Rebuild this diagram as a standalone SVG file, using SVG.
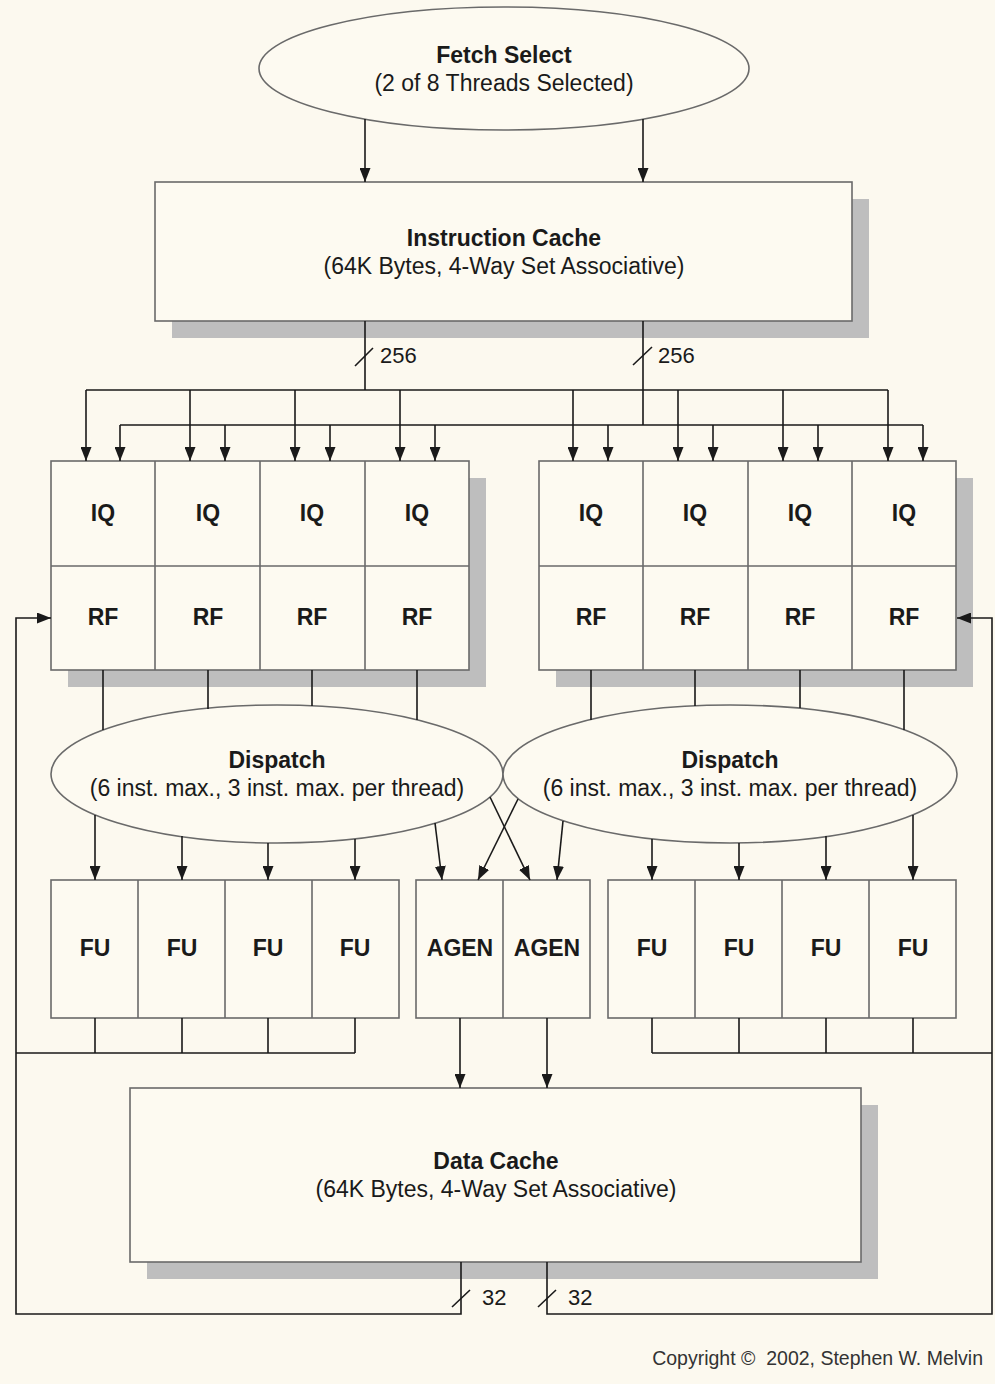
<svg xmlns="http://www.w3.org/2000/svg" width="995" height="1384" viewBox="0 0 995 1384">
<defs>
<marker id="ah" viewBox="0 0 14 11" refX="14" refY="5.5" markerWidth="14" markerHeight="11" markerUnits="userSpaceOnUse" orient="auto">
<path d="M0,0 L14,5.5 L0,11 z" fill="#1a1a1a"/>
</marker>
</defs>
<style>
.bg{fill:#FCF9EF}
.box{fill:#FDFAF1;stroke:#6a6a6a;stroke-width:1.6}
.div{fill:none;stroke:#6a6a6a;stroke-width:1.6}
.sh{fill:#BEBEBE}
.ln{fill:none;stroke:#1a1a1a;stroke-width:1.6}
.ar{fill:none;stroke:#1a1a1a;stroke-width:1.6;marker-end:url(#ah)}
.t{font-family:"Liberation Sans",Arial,sans-serif;font-size:23px;fill:#1a1a1a;text-anchor:middle}
.b{font-weight:bold}
.lab{font-family:"Liberation Sans",Arial,sans-serif;font-size:22px;fill:#1a1a1a}
.cp{font-family:"Liberation Sans",Arial,sans-serif;font-size:19.5px;fill:#333;text-anchor:end}
</style>
<rect class="bg" x="0" y="0" width="995" height="1384"/>

<g id="fetch-select">
<ellipse class="box" cx="504" cy="68.5" rx="245" ry="61.5"/>
<text class="t b" x="504" y="63">Fetch Select</text>
<text class="t" x="504" y="91">(2 of 8 Threads Selected)</text>
</g>

<g id="instruction-cache">
<rect class="sh" x="172" y="199" width="697" height="139"/>
<rect class="box" x="155" y="182" width="697" height="139"/>
<text class="t b" x="504" y="246">Instruction Cache</text>
<text class="t" x="504" y="274">(64K Bytes, 4-Way Set Associative)</text>
</g>

<g id="iq-rf-left">
<rect class="sh" x="68" y="478" width="418" height="209"/>
<rect class="box" x="51" y="461" width="418" height="209"/>
<path class="div" d="M51,566 H469 M155,461 V670 M260,461 V670 M365,461 V670"/>
<text class="t b" x="103" y="521">IQ</text>
<text class="t b" x="208" y="521">IQ</text>
<text class="t b" x="312" y="521">IQ</text>
<text class="t b" x="417" y="521">IQ</text>
<text class="t b" x="103" y="625">RF</text>
<text class="t b" x="208" y="625">RF</text>
<text class="t b" x="312" y="625">RF</text>
<text class="t b" x="417" y="625">RF</text>
</g>

<g id="iq-rf-right">
<rect class="sh" x="556" y="478" width="417" height="209"/>
<rect class="box" x="539" y="461" width="417" height="209"/>
<path class="div" d="M539,566 H956 M643,461 V670 M748,461 V670 M852,461 V670"/>
<text class="t b" x="591" y="521">IQ</text>
<text class="t b" x="695" y="521">IQ</text>
<text class="t b" x="800" y="521">IQ</text>
<text class="t b" x="904" y="521">IQ</text>
<text class="t b" x="591" y="625">RF</text>
<text class="t b" x="695" y="625">RF</text>
<text class="t b" x="800" y="625">RF</text>
<text class="t b" x="904" y="625">RF</text>
</g>

<g id="dispatch-left">
<ellipse class="box" cx="277" cy="774" rx="226" ry="69"/>
<text class="t b" x="277" y="768">Dispatch</text>
<text class="t" x="277" y="796">(6 inst. max., 3 inst. max. per thread)</text>
</g>

<g id="dispatch-right">
<ellipse class="box" cx="730" cy="774" rx="227" ry="69"/>
<text class="t b" x="730" y="768">Dispatch</text>
<text class="t" x="730" y="796">(6 inst. max., 3 inst. max. per thread)</text>
</g>

<g id="fu-left">
<rect class="box" x="51" y="880" width="348" height="138"/>
<path class="div" d="M138,880 V1018 M225,880 V1018 M312,880 V1018"/>
<text class="t b" x="95" y="956">FU</text>
<text class="t b" x="182" y="956">FU</text>
<text class="t b" x="268" y="956">FU</text>
<text class="t b" x="355" y="956">FU</text>
</g>

<g id="agen">
<rect class="box" x="416" y="880" width="174" height="138"/>
<path class="div" d="M503,880 V1018"/>
<text class="t b" x="460" y="956">AGEN</text>
<text class="t b" x="547" y="956">AGEN</text>
</g>

<g id="fu-right">
<rect class="box" x="608" y="880" width="348" height="138"/>
<path class="div" d="M695,880 V1018 M782,880 V1018 M869,880 V1018"/>
<text class="t b" x="652" y="956">FU</text>
<text class="t b" x="739" y="956">FU</text>
<text class="t b" x="826" y="956">FU</text>
<text class="t b" x="913" y="956">FU</text>
</g>

<g id="data-cache">
<rect class="sh" x="147" y="1105" width="731" height="174"/>
<rect class="box" x="130" y="1088" width="731" height="174"/>
<text class="t b" x="496" y="1169">Data Cache</text>
<text class="t" x="496" y="1197">(64K Bytes, 4-Way Set Associative)</text>
</g>

<g id="connectors">
<line class="ar" x1="365" y1="119" x2="365" y2="182"/>
<line class="ar" x1="643" y1="119" x2="643" y2="182"/>

<path class="ln" d="M365,321 V390 M643,321 V425"/>
<path class="ln" d="M86,390 H888 M120,425 H923"/>
<path class="ln" d="M355,366 L373,348 M633,365 L652,347"/>
<text class="lab" x="380" y="363">256</text>
<text class="lab" x="658" y="363">256</text>

<path class="ar" d="M86,390 V461"/>
<path class="ar" d="M190,390 V461"/>
<path class="ar" d="M295,390 V461"/>
<path class="ar" d="M400,390 V461"/>
<path class="ar" d="M573,390 V461"/>
<path class="ar" d="M678,390 V461"/>
<path class="ar" d="M783,390 V461"/>
<path class="ar" d="M888,390 V461"/>
<path class="ar" d="M120,425 V461"/>
<path class="ar" d="M225,425 V461"/>
<path class="ar" d="M330,425 V461"/>
<path class="ar" d="M435,425 V461"/>
<path class="ar" d="M608,425 V461"/>
<path class="ar" d="M713,425 V461"/>
<path class="ar" d="M818,425 V461"/>
<path class="ar" d="M923,425 V461"/>

<path class="ln" d="M103,670 V730 M208,670 V709 M312,670 V706 M417,670 V720"/>
<path class="ln" d="M591,670 V720 M695,670 V706 M800,670 V708 M904,670 V730"/>

<path class="ar" d="M95,815 V880"/>
<path class="ar" d="M182,836 V880"/>
<path class="ar" d="M268,843 V880"/>
<path class="ar" d="M355,839 V880"/>
<path class="ar" d="M652,839 V880"/>
<path class="ar" d="M739,843 V880"/>
<path class="ar" d="M826,836 V880"/>
<path class="ar" d="M913,815 V880"/>

<path class="ar" d="M435,823 L442,880"/>
<path class="ar" d="M490,797 L530,880"/>
<path class="ar" d="M518,799 L478,880"/>
<path class="ar" d="M563,821 L557,880"/>

<path class="ln" d="M95,1018 V1053 M182,1018 V1053 M268,1018 V1053 M355,1018 V1053 M16,1053 H355"/>
<path class="ln" d="M652,1018 V1053 M739,1018 V1053 M826,1018 V1053 M913,1018 V1053 M652,1053 H992"/>

<path class="ar" d="M460,1018 V1088"/>
<path class="ar" d="M547,1018 V1088"/>

<path class="ar" d="M461,1262 V1314 H16 V618 H51"/>
<path class="ar" d="M547,1262 V1314 H992 V618 H957"/>
<path class="ln" d="M452,1307 L470,1290 M538,1307 L556,1290"/>
<text class="lab" x="482" y="1305">32</text>
<text class="lab" x="568" y="1305">32</text>
</g>

<text class="cp" x="983" y="1365" xml:space="preserve">Copyright ©  2002, Stephen W. Melvin</text>
</svg>
